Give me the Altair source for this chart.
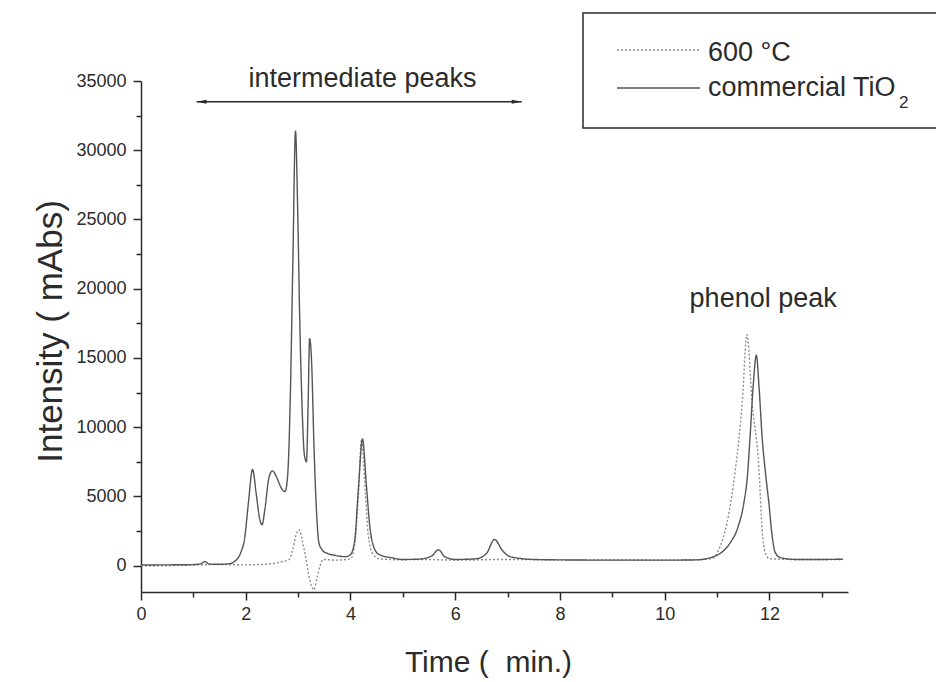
import altair as alt
import pandas as pd

# ---------------- data ----------------
series_names = ["600 °C", "commercial TiO₂"]

time_tio2 = [0.0, 0.5, 1.0, 1.15, 1.22, 1.3, 1.5, 1.7, 1.8, 1.9, 1.98, 2.05, 2.13, 2.2, 2.26,
             2.31, 2.37, 2.44, 2.51, 2.6, 2.68, 2.75, 2.8, 2.85, 2.9, 2.95, 2.99, 3.03, 3.08,
             3.12, 3.16, 3.19, 3.22, 3.26, 3.3, 3.35, 3.4, 3.47, 3.55, 3.7, 3.9, 4.0, 4.08,
             4.15, 4.23, 4.3, 4.37, 4.45, 4.55, 4.8, 5.0, 5.3, 5.55, 5.68, 5.8, 6.0, 6.4,
             6.6, 6.75, 6.9, 7.05, 7.5, 8.0, 9.0, 10.0, 10.6, 10.93, 11.1, 11.25, 11.4,
             11.51, 11.58, 11.63, 11.69, 11.75, 11.8, 11.86, 11.93, 11.99, 12.05, 12.11,
             12.21, 12.5, 13.0, 13.4]
int_tio2 = [50, 60, 80, 150, 300, 120, 100, 150, 350, 900, 2000, 4500, 6950, 5200, 3500,
            2950, 4200, 6300, 6850, 6300, 5600, 5350, 6500, 12000, 22000, 31400, 26000, 18000, 11000,
            8000, 7500, 11500, 16400, 14500, 9000, 4000, 1600, 1100, 900, 750, 650, 800, 1800,
            5500, 9150, 6000, 2800, 1300, 800, 560, 450, 470, 700, 1150, 650, 450, 500,
            900, 1900, 1100, 650, 450, 420, 400, 400, 420, 650, 1000, 1650, 2800,
            4500, 6500, 9300, 13000, 15200, 13000, 9300, 6500, 4500, 2200, 950,
            580, 450, 450, 470]

time_600 = [0.0, 0.5, 1.0, 1.5, 2.0, 2.5, 2.7, 2.83, 2.9, 2.96, 3.02, 3.08, 3.14, 3.2, 3.26,
            3.3, 3.36, 3.42, 3.48, 3.7, 4.0, 4.08, 4.15, 4.21, 4.28, 4.34, 4.42, 4.55, 4.9,
            5.4, 6.0, 7.0, 8.0, 9.0, 10.0, 10.5, 10.9, 11.03, 11.19, 11.35, 11.48, 11.57,
            11.67, 11.8, 11.86, 11.92, 12.0, 12.5, 13.4]
int_600 = [0, 0, 50, 80, 60, 150, 300, 450, 1200, 2200, 2600, 1800, 700, -600, -1500,
           -1750, -900, 0, 450, 400, 500, 1500, 5000, 9100, 5500, 2200, 900, 500, 430,
           450, 400, 450, 420, 420, 400, 420, 500, 1150, 3100, 6950, 11750, 16700,
           11750, 6950, 2600, 950, 500, 450, 450]

x_tick_values = list(range(0, 14))
y_tick_values = list(range(0, 35001, 2500))

arrow_start, arrow_end, arrow_level = 1.06, 7.27, 33500
note_intermediate = ["intermediate peaks", 4.23, 34540]
note_phenol = ["phenol peak", 11.88, 18700]

# ---------------- build table ----------------
df = pd.concat([
    pd.DataFrame({"t": time_600, "v": int_600, "series": series_names[0]}),
    pd.DataFrame({"t": time_tio2, "v": int_tio2, "series": series_names[1]}),
], ignore_index=True)

W, H = 707, 511
PAD = {"left": 141, "top": 81, "right": 88, "bottom": 90}
FONT = "Liberation Sans"
INK = "#2b2b2b"
C_SOLID = "#555555"
C_DOT = "#8c8c8c"

x_scale = alt.Scale(domain=[0, 13.5], nice=False, zero=False)
y_scale = alt.Scale(domain=[-1900, 35000], nice=False, zero=False)

common_axis = dict(
    grid=False, labelFont=FONT, labelFontSize=18, labelColor=INK,
    tickColor=INK, tickWidth=1.5, domainColor=INK, domainWidth=1.5,
    labelOverlap=False, labelFlush=False,
    titleFont=FONT, titleFontWeight="normal", titleColor=INK,
)

x_axis = alt.Axis(
    values=x_tick_values,
    labelExpr="datum.value % 2 === 0 ? datum.label : ''",
    tickSize={"condition": {"test": "datum.value % 2 === 0", "value": 8}, "value": 5},
    labelPadding=5, titleFontSize=30, titleX=347, titleY=79,
    titleBaseline="alphabetic", **common_axis,
)
y_axis = alt.Axis(
    values=y_tick_values, format="d",
    labelExpr="datum.value % 5000 === 0 ? datum.label : ''",
    tickSize={"condition": {"test": "datum.value % 5000 === 0", "value": 8}, "value": 5},
    labelPadding=7, titleFontSize=35, titleX=-80, titleY=250, titleAngle=270,
    titleBaseline="alphabetic", **common_axis,
)


def X(field="t"):
    return alt.X(f"{field}:Q", scale=x_scale, axis=x_axis, title="Time (\u00a0 min.)")


def Y(field="v"):
    return alt.Y(f"{field}:Q", scale=y_scale, axis=y_axis, title="Intensity (\u00a0mAbs)")


lines = alt.Chart(df).mark_line(interpolate="monotone", strokeWidth=1.4).encode(
    x=X(), y=Y(),
    color=alt.Color("series:N", scale=alt.Scale(domain=series_names, range=[C_DOT, C_SOLID]), legend=None),
    strokeDash=alt.StrokeDash("series:N", scale=alt.Scale(domain=series_names, range=[[2, 2], [1, 0]]), legend=None),
)

# arrow for "intermediate peaks"
arrow_df = pd.DataFrame({"t": [arrow_start], "t2": [arrow_end], "v": [arrow_level]})
arrow_line = alt.Chart(arrow_df).mark_rule(color=INK, strokeWidth=1.5).encode(
    x=X(), x2="t2:Q", y=Y(),
)
head_l = alt.Chart(pd.DataFrame({"t": [arrow_start], "v": [arrow_level]})).mark_point(
    shape="M0,0 L2,-0.4 L2,0.4 Z", filled=True, size=100, color=INK, opacity=1
).encode(x=X(), y=Y())
head_r = alt.Chart(pd.DataFrame({"t": [arrow_end], "v": [arrow_level]})).mark_point(
    shape="M0,0 L-2,-0.4 L-2,0.4 Z", filled=True, size=100, color=INK, opacity=1
).encode(x=X(), y=Y())

notes_df = pd.DataFrame({
    "label": [note_intermediate[0], note_phenol[0]],
    "t": [note_intermediate[1], note_phenol[1]],
    "v": [note_intermediate[2], note_phenol[2]],
})
notes = alt.Chart(notes_df).mark_text(
    font=FONT, fontSize=27, color=INK, align="center", baseline="alphabetic"
).encode(x=X(), y=Y(), text="label:N")

# ---------------- legend box (drawn by hand) ----------------
one = pd.DataFrame({"k": [0]})
box = alt.Chart(one).mark_rect(fill=None, stroke=INK, strokeWidth=1.5).encode(
    x=alt.value(442), x2=alt.value(820), y=alt.value(-68), y2=alt.value(47)
)
leg_dot = alt.Chart(one).mark_rule(color=C_DOT, strokeWidth=1.4, strokeDash=[2, 2]).encode(
    x=alt.value(476), x2=alt.value(559), y=alt.value(-31)
)
leg_solid = alt.Chart(one).mark_rule(color=C_SOLID, strokeWidth=1.4).encode(
    x=alt.value(476), x2=alt.value(559), y=alt.value(7)
)
leg_txt1 = alt.Chart(one).mark_text(font=FONT, fontSize=27, color=INK, align="left", baseline="middle").encode(
    x=alt.value(567), y=alt.value(-28), text=alt.value("600 °C")
)
leg_txt2 = alt.Chart(one).mark_text(font=FONT, fontSize=27, color=INK, align="left", baseline="middle").encode(
    x=alt.value(567), y=alt.value(7), text=alt.value("commercial TiO")
)
leg_sub = alt.Chart(one).mark_text(font=FONT, fontSize=17, color=INK, align="left", baseline="middle").encode(
    x=alt.value(758), y=alt.value(22), text=alt.value("2")
)

chart = alt.layer(
    lines, arrow_line, head_l, head_r, notes,
    box, leg_dot, leg_solid, leg_txt1, leg_txt2, leg_sub,
).properties(
    width=W, height=H, padding=PAD,
    autosize=alt.AutoSizeParams(type="none"),
    background="white",
).configure_view(stroke=None)

chart.save("out.html", embed_options={"renderer": "svg", "actions": False})
